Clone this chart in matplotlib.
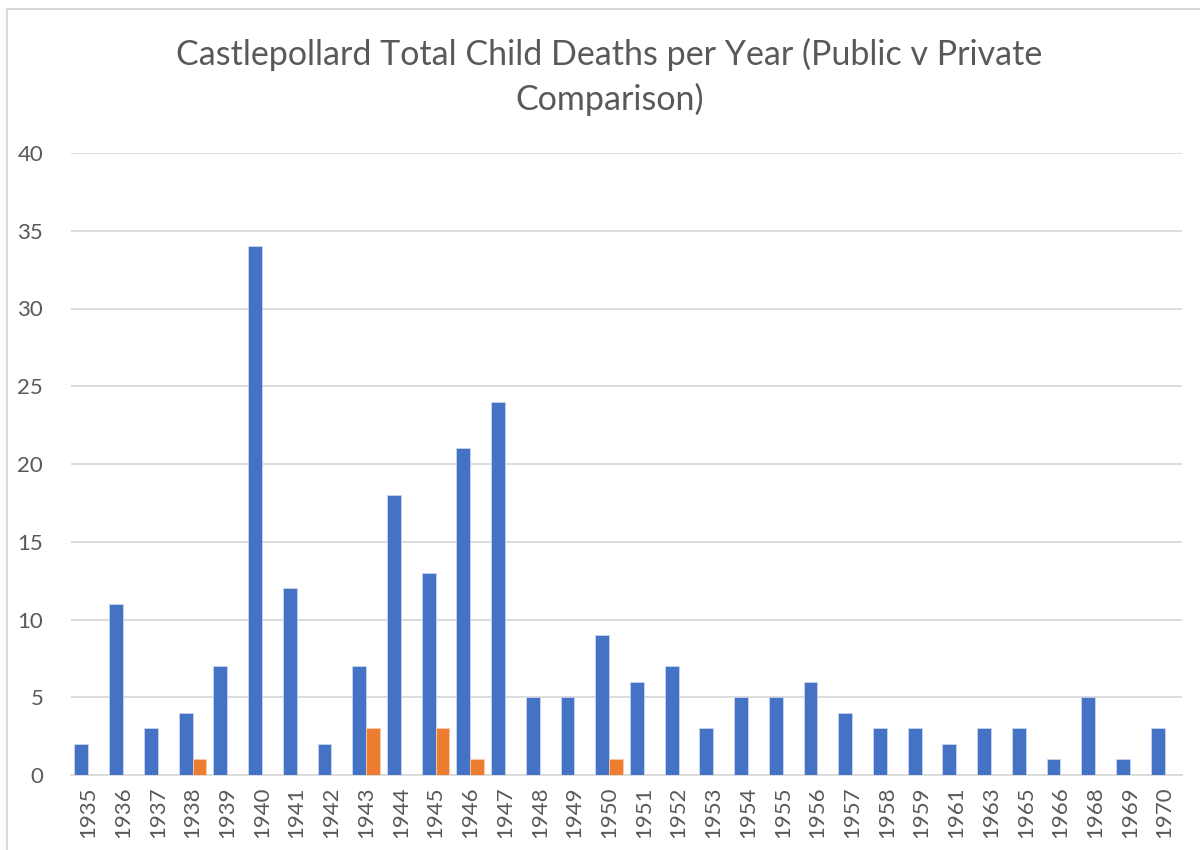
import numpy as np
import matplotlib.pyplot as plt
from matplotlib.patches import Rectangle

# deaths per year, public vs private
years = ['1935', '1936', '1937', '1938', '1939', '1940', '1941', '1942', '1943', '1944',
         '1945', '1946', '1947', '1948', '1949', '1950', '1951', '1952', '1953', '1954',
         '1955', '1956', '1957', '1958', '1959', '1961', '1963', '1965', '1966', '1968',
         '1969', '1970']
public = [2, 11, 3, 4, 7, 34, 12, 2, 7, 18,
          13, 21, 24, 5, 5, 9, 6, 7, 3, 5,
          5, 6, 4, 3, 3, 2, 3, 3, 1, 5,
          1, 3]
private = [0, 0, 0, 1, 0, 0, 0, 0, 3, 0,
           3, 1, 0, 0, 0, 1, 0, 0, 0, 0,
           0, 0, 0, 0, 0, 0, 0, 0, 0, 0,
           0, 0]

plt.rcParams['font.family'] = ['Lato', 'DejaVu Sans']

fig = plt.figure(figsize=(12, 8.5), dpi=100)
ax = fig.add_axes([71 / 1200, 1 - 775 / 850, (1182 - 71) / 1200, (775 - 153) / 850])

x = np.arange(len(years))
w = 0.4
ax.bar(x - w / 2, public, width=w, color='#4472C4', edgecolor='#C9D6EE', linewidth=0.6, zorder=3)
ax.bar(x + w / 2, private, width=w, color='#ED7D31', edgecolor='#F8CBAD', linewidth=0.6, zorder=3)

ax.set_xlim(-0.5, len(years) - 0.5)
ax.set_ylim(0, 40)
ax.set_yticks(range(0, 41, 5))
ax.set_xticks(x)
ax.set_xticklabels(years, rotation=90)
ax.tick_params(axis='both', length=0, labelsize=16, colors='#595959')
ax.tick_params(axis='y', pad=20)
ax.tick_params(axis='x', pad=8)

ax.grid(axis='y', color='#D9D9D9', linewidth=1.3, zorder=0)
for s in ['top', 'right', 'left']:
    ax.spines[s].set_visible(False)
ax.spines['bottom'].set_color('#D9D9D9')
ax.spines['bottom'].set_linewidth(1.3)

fig.text(0.508, 1 - 77 / 850, 'Castlepollard Total Child Deaths per Year (Public v Private\nComparison)',
         ha='center', va='center', fontsize=24.5, color='#595959', linespacing=1.45)

# chart border (cut at right and bottom)
fig.patches.append(Rectangle((7 / 1200, -0.1), 1.2, 1 - 9 / 850 + 0.1, transform=fig.transFigure,
                             fill=False, edgecolor='#D9D9D9', linewidth=1.5))

fig.savefig('out.png', dpi=100)
